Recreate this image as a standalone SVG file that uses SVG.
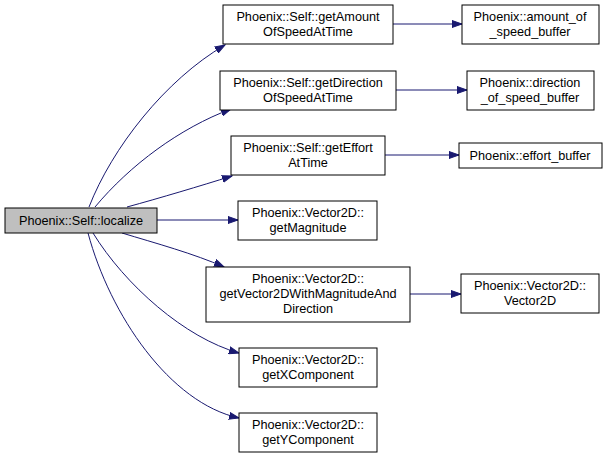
<svg xmlns="http://www.w3.org/2000/svg" width="608" height="459" viewBox="0 0 608 459">
<style>
.n rect{fill:#fff;stroke:#000;stroke-width:1}
.n.h rect{fill:#bfbfbf}
.n text{font-family:"Liberation Sans",Arial,sans-serif;font-size:12.7px;text-anchor:middle;fill:#000}
.e path{fill:none;stroke:#191970;stroke-width:1}
</style>
<defs>
<marker id="a" markerWidth="11" markerHeight="8" refX="10" refY="4" orient="auto" markerUnits="userSpaceOnUse">
<path d="M0,0.5 L10,4 L0,7.5 Z" fill="#191970" stroke="#191970"/>
</marker>
</defs>
<rect width="608" height="459" fill="#fff"/>
<g class="e">
<path d="M89,207 C112,148 165,80 225,45" marker-end="url(#a)"/>
<path d="M95,207 C130,165 180,128 231,109" marker-end="url(#a)"/>
<path d="M127,207 C160,198 200,186 232,176" marker-end="url(#a)"/>
<path d="M157,220 L238,220" marker-end="url(#a)"/>
<path d="M122,233 C155,243 195,254 224,267" marker-end="url(#a)"/>
<path d="M93,233 C125,285 185,338 239,353" marker-end="url(#a)"/>
<path d="M88,233 C110,315 170,403 239,418" marker-end="url(#a)"/>
<path d="M393,24 L462,24" marker-end="url(#a)"/>
<path d="M396,90 L467,90" marker-end="url(#a)"/>
<path d="M385,155 L459,155" marker-end="url(#a)"/>
<path d="M410,294 L461,294" marker-end="url(#a)"/>
</g>
<g id="localize" class="n h"><rect x="5" y="208" width="152" height="25"/><text x="81" y="225">Phoenix::Self::localize</text></g>
<g id="getAmount" class="n"><rect x="223" y="5" width="170" height="39"/><text x="308" y="21">Phoenix::Self::getAmount</text><text x="308" y="36">OfSpeedAtTime</text></g>
<g id="getDirection" class="n"><rect x="220" y="71" width="176" height="39"/><text x="308" y="87">Phoenix::Self::getDirection</text><text x="308" y="102">OfSpeedAtTime</text></g>
<g id="getEffort" class="n"><rect x="231" y="136" width="154" height="39"/><text x="308" y="152">Phoenix::Self::getEffort</text><text x="308" y="167">AtTime</text></g>
<g id="amountBuf" class="n"><rect x="462" y="5" width="137" height="39"/><text x="530" y="21">Phoenix::amount_of</text><text x="530" y="36">_speed_buffer</text></g>
<g id="directionBuf" class="n"><rect x="467" y="71" width="127" height="39"/><text x="530" y="87">Phoenix::direction</text><text x="530" y="102">_of_speed_buffer</text></g>
<g id="effortBuf" class="n"><rect x="459" y="143" width="143" height="25"/><text x="530" y="160">Phoenix::effort_buffer</text></g>
<g id="getMagnitude" class="n"><rect x="238" y="201" width="139" height="39"/><text x="308" y="217">Phoenix::Vector2D::</text><text x="308" y="232">getMagnitude</text></g>
<g id="getVecWith" class="n"><rect x="206" y="267" width="204" height="55"/><text x="308" y="283">Phoenix::Vector2D::</text><text x="308" y="298">getVector2DWithMagnitudeAnd</text><text x="308" y="313">Direction</text></g>
<g id="getX" class="n"><rect x="239" y="348" width="138" height="39"/><text x="308" y="364">Phoenix::Vector2D::</text><text x="308" y="379">getXComponent</text></g>
<g id="getY" class="n"><rect x="239" y="413" width="138" height="39"/><text x="308" y="429">Phoenix::Vector2D::</text><text x="308" y="444">getYComponent</text></g>
<g id="vec2d" class="n"><rect x="461" y="274" width="138" height="39"/><text x="530" y="290">Phoenix::Vector2D::</text><text x="530" y="305">Vector2D</text></g>
</svg>
